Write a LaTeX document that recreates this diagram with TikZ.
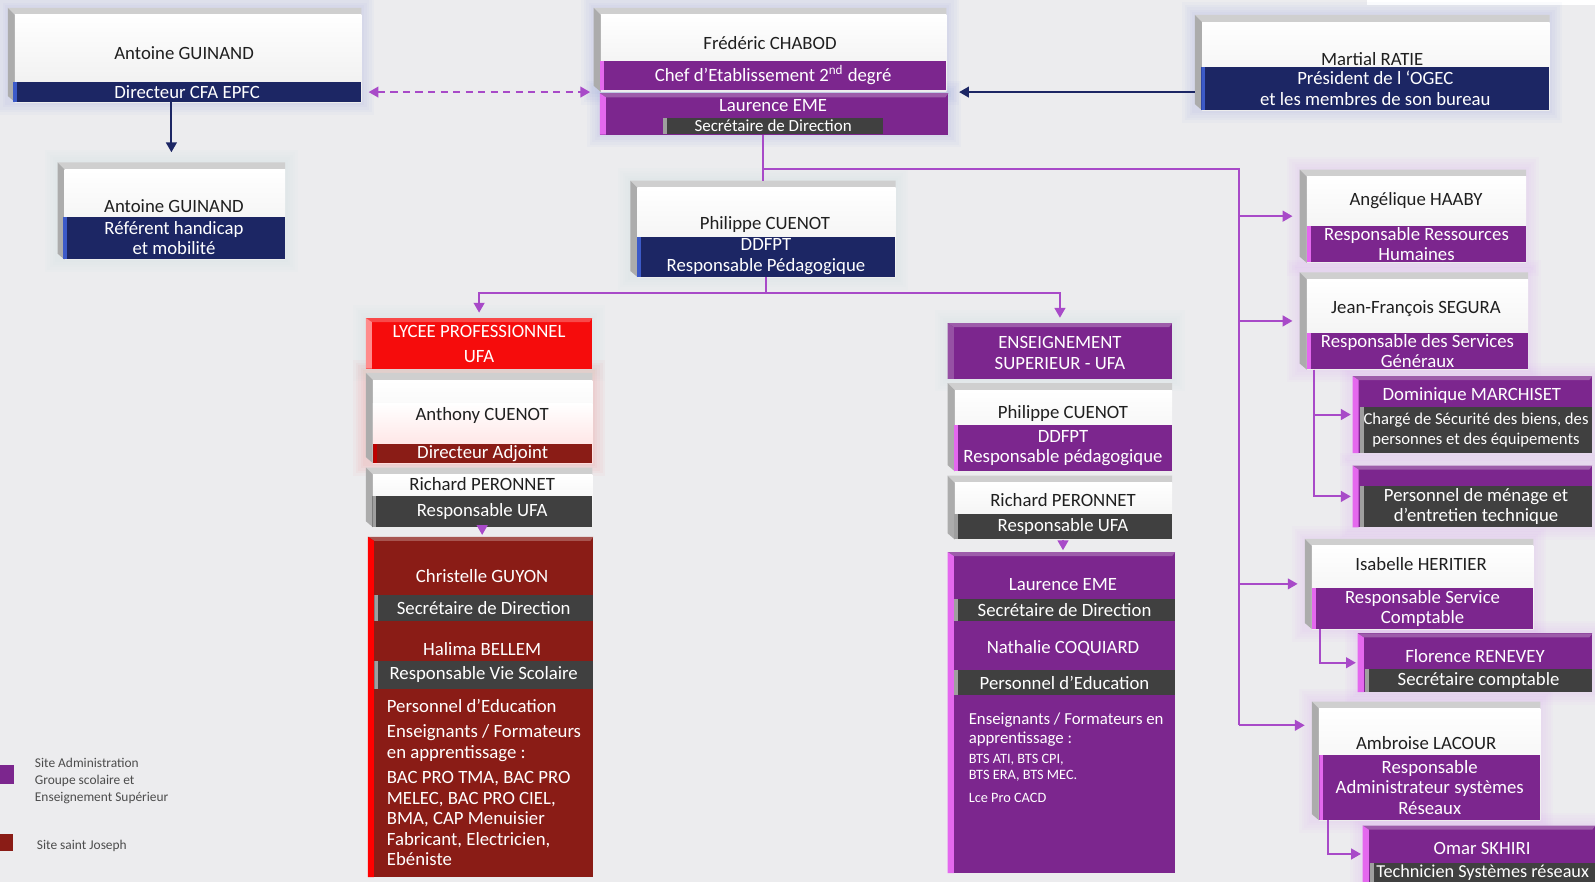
\documentclass[tikz,border=0pt]{standalone}
\usepackage{fontspec}
\setmainfont{Carlito}
\usetikzlibrary{arrows.meta,calc,fit,positioning}

\definecolor{navyblue}{RGB}{28,38,100}
\definecolor{navyedge}{RGB}{60,90,200}
\definecolor{ogecviolet}{RGB}{124,38,142}
\definecolor{pinkedge}{RGB}{228,104,238}
\definecolor{wine}{RGB}{138,28,22}
\definecolor{lpred}{RGB}{246,12,12}
\definecolor{slate}{RGB}{64,64,64}
\definecolor{linkviolet}{RGB}{168,74,200}
\definecolor{backgray}{RGB}{236,236,238}
\definecolor{tealglow}{RGB}{150,210,200}

\begin{document}
\begin{tikzpicture}[x=0.02cm,y=-0.02cm,
  cardframe/.style={inner sep=0pt},
  txt/.style={font=\fontsize{10.5}{11.5}\selectfont, inner sep=0pt, align=center},
  who/.style={txt, text=black!88},
  whitewho/.style={txt, text=white},
  band/.style={inner sep=0pt, path picture={\fill[#1] (path picture bounding box.north west) rectangle ([xshift=0.8mm]path picture bounding box.south west);}},
  navyband/.style={band=navyedge, fill=navyblue},
  violetband/.style={band=pinkedge, fill=ogecviolet},
  slateband/.style={band=gray!75, fill=slate},
  wineband/.style={band=red!75!black, fill=wine},
  boxtext/.style={txt, text=white, align=left, anchor=north west},
  legend/.style={font=\fontsize{7.5}{9.6}\selectfont, text=black!70, align=left, inner sep=0pt},
  link/.style={linkviolet, line width=1.1pt},
  linkarrow/.style={link, -{Triangle[length=5.5pt,width=6pt]}, shorten >=1pt},
  navylink/.style={navyblue, line width=1.1pt, -{Triangle[length=5.5pt,width=6pt]}},
]
% background
\useasboundingbox (0,0) rectangle (1568,867);
\fill[backgray] (0,0) rectangle (1568,867);
\fill[white] (1344,0) rectangle (1568,5);

% card frames
\node[cardframe, fit={(8,8) (355,100)}] (guinand) {};
\node[cardframe, fit={(57,160) (280,255)}] (referent) {};
\node[cardframe, fit={(584,8) (930,90)}] (chabod) {};
\node[cardframe, fit={(1175,15) (1523,108)}] (ratie) {};
\node[cardframe, fit={(620,178) (880,272)}] (ddfpt) {};
\node[cardframe, fit={(360,367) (582,455)}] (anthony) {};
\node[cardframe, fit={(360,460) (582,518)}] (peronA) {};
\node[cardframe, fit={(932,377) (1152,463)}] (cuenotB) {};
\node[cardframe, fit={(932,468) (1152,530)}] (peronB) {};
\node[cardframe, fit={(1278,167) (1500,258)}] (haaby) {};
\node[cardframe, fit={(1278,268) (1502,363)}] (segura) {};
\node[cardframe, fit={(1283,530) (1507,618)}] (heritier) {};
\node[cardframe, fit={(1290,690) (1514,806)}] (lacour) {};

% coloured boxes
\node[cardframe, fit={(590,92) (932,132)}] (laurA) {};
\node[cardframe, fit={(360,313) (582,362)}] (lycee) {};
\node[cardframe, fit={(932,318) (1152,372)}] (ens) {};
\node[cardframe, fit={(362,528) (583,862)}] (bigred) {};
\node[cardframe, fit={(932,543) (1155,858)}] (bigviolet) {};
\node[cardframe, fit={(1330,370) (1565,445)}] (march) {};
\node[cardframe, fit={(1330,458) (1565,518)}] (menage) {};
\node[cardframe, fit={(1335,623) (1565,680)}] (renevey) {};
\node[cardframe, fit={(1340,812) (1568,867)}] (skhiri) {};

% soft glow round the cards
\foreach \c/\gc in {guinand/navyedge, referent/tealglow, chabod/navyedge, laurA/navyedge, ratie/navyedge, ddfpt/tealglow,
    anthony/red, lycee/tealglow, ens/tealglow, haaby/pinkedge, segura/pinkedge, march/pinkedge, menage/pinkedge,
    heritier/pinkedge, renevey/pinkedge, lacour/pinkedge, skhiri/pinkedge} {
  \foreach \i in {1,...,5}
    \fill[\gc, opacity=0.025] ($(\c.north west)+(-2.5*\i,-2.5*\i)$) rectangle ($(\c.south east)+(2.5*\i,2.5*\i)$);
}

% bevelled white cards
\foreach \c in {guinand,referent,chabod,ratie,ddfpt,anthony,peronA,cuenotB,peronB,haaby,segura,heritier,lacour} {
  \fill[gray!38] (\c.north west) -- (\c.north east) -- ($(\c.north east)+(0,7)$) -- ($(\c.north west)+(7,7)$) -- cycle;
  \fill[gray!65] (\c.north west) -- ($(\c.north west)+(7,7)$) -- ($(\c.south west)+(7,0)$) -- ($(\c.south west)+(0,-6)$) -- cycle;
  \shade[top color=white, bottom color=gray!14] ($(\c.north west)+(7,7)$) rectangle (\c.south east);
}
\shade[top color=white, bottom color=red!14] ($(anthony.north west)+(7,30)$) rectangle (anthony.south east);

% coloured boxes with a light edge
\foreach \c/\fc/\ec in {laurA/ogecviolet/pinkedge, lycee/lpred/red!45!white, ens/ogecviolet/ogecviolet!80!white,
    bigred/wine/red, bigviolet/ogecviolet/pinkedge, march/ogecviolet/pinkedge, menage/ogecviolet/pinkedge,
    renevey/ogecviolet/pinkedge, skhiri/ogecviolet/pinkedge} {
  \fill[\fc] (\c.north west) rectangle (\c.south east);
  \fill[\fc!75!white] (\c.north west) -- (\c.north east) -- ($(\c.north east)+(-3,4)$) -- ($(\c.north west)+(6,4)$) -- cycle;
  \fill[\ec] (\c.north west) -- ($(\c.north west)+(6,4)$) -- ($(\c.south west)+(6,0)$) -- (\c.south west) -- cycle;
}

% bands
\node[navyband, fit={(13,81) (355,100)}] (dirA) {};
\node[navyband, fit={(62,213) (280,255)}] (refB) {};
\node[violetband, fit={(590,60) (930,88)}] (chefB) {};
\node[slateband, fit={(652,116) (868,132)}] (secA) {};
\node[navyband, fit={(1181,66) (1523,108)}] (ratieB) {};
\node[navyband, fit={(626,233) (880,272)}] (ddfptB) {};
\node[wineband, fit={(367,436) (582,455)}] (adjB) {};
\node[slateband, fit={(366,488) (582,518)}] (ufaA) {};
\node[slateband, fit={(368,585) (583,610)}] (secB) {};
\node[slateband, fit={(368,650) (583,677)}] (vieB) {};
\node[violetband, fit={(938,418) (1152,463)}] (cuenotBB) {};
\node[slateband, fit={(938,505) (1152,530)}] (ufaB) {};
\node[slateband, fit={(938,589) (1155,610)}] (secC) {};
\node[slateband, fit={(938,659) (1155,683)}] (eduC) {};
\node[violetband, fit={(1285,222) (1500,258)}] (haabyB) {};
\node[violetband, fit={(1285,327) (1502,363)}] (seguraB) {};
\node[slateband, fit={(1337,400) (1565,445)}] (marchB) {};
\node[slateband, fit={(1337,478) (1565,518)}] (menageB) {};
\node[violetband, fit={(1290,578) (1507,618)}] (heritierB) {};
\node[slateband, fit={(1342,658) (1565,680)}] (reneveyB) {};
\node[violetband, fit={(1297,742) (1514,806)}] (lacourB) {};
\node[slateband, fit={(1347,848) (1568,867)}] (skhiriB) {};

% band texts
\node[whitewho] (tDirA) at (dirA) {Directeur CFA EPFC};
\node[whitewho] (tRefB) at (refB) {Référent handicap\\et mobilité};
\node[whitewho] (tChefB) at (chefB) {Chef d’Etablissement 2\textsuperscript{nd} degré};
\node[whitewho, font=\fontsize{9.5}{11}\selectfont] (tSecA) at (secA) {Secrétaire de Direction};
\node[whitewho] (tRatieB) at (ratieB) {Président de l ‘OGEC\\et les membres de son bureau};
\node[whitewho] (tDdfptB) at (ddfptB) {DDFPT\\Responsable Pédagogique};
\node[whitewho] (tAdjB) at (adjB) {Directeur Adjoint};
\node[whitewho] (tUfaA) at (ufaA) {Responsable UFA};
\node[whitewho] (tSecB) at (secB) {Secrétaire de Direction};
\node[whitewho] (tVieB) at (vieB) {Responsable Vie Scolaire};
\node[whitewho] (tCuenotBB) at (cuenotBB) {DDFPT\\Responsable pédagogique};
\node[whitewho] (tUfaB) at (ufaB) {Responsable UFA};
\node[whitewho] (tSecC) at (secC) {Secrétaire de Direction};
\node[whitewho] (tEduC) at (eduC) {Personnel d’Education};
\node[whitewho] (tHaabyB) at (haabyB) {Responsable Ressources\\Humaines};
\node[whitewho] (tSeguraB) at (seguraB) {Responsable des Services\\Généraux};
\node[whitewho, font=\fontsize{9.3}{11}\selectfont] (tMarchB) at (marchB) {Chargé de Sécurité des biens, des\\personnes et des équipements};
\node[whitewho] (tMenageB) at (menageB) {Personnel de ménage et\\d’entretien technique};
\node[whitewho] (tHeritierB) at (heritierB) {Responsable Service\\Comptable};
\node[whitewho] (tReneveyB) at (reneveyB) {Secrétaire comptable};
\node[whitewho] (tLacourB) at (lacourB) {Responsable\\Administrateur systèmes\\Réseaux};
\node[whitewho, font=\fontsize{10.2}{11}\selectfont] (tSkhiriB) at (skhiriB) {Technicien Systèmes réseaux};

% names
\node[who] (tGuinand) at (181,52) {Antoine GUINAND};
\node[who] (tReferent) at (171,203) {Antoine GUINAND};
\node[who] (tChabod) at (757,42) {Frédéric CHABOD};
\node[whitewho] (tLaurA) at (760,104) {Laurence EME};
\node[who] (tRatie) at (1349,58) {Martial RATIE};
\node[who] (tDdfpt) at (752,221) {Philippe CUENOT};
\node[whitewho] (tLycee) at (471,338) {LYCEE PROFESSIONNEL\\[2.7pt]UFA};
\node[who] (tAnthony) at (474,408) {Anthony CUENOT};
\node[who] (tPeronA) at (474,476) {Richard PERONNET};
\node[whitewho] (tEns) at (1042,347) {ENSEIGNEMENT\\SUPERIEUR - UFA};
\node[who] (tCuenotB) at (1045,406) {Philippe CUENOT};
\node[who] (tPeronB) at (1045,492) {Richard PERONNET};
\node[who] (tHaaby) at (1392,197) {Angélique HAABY};
\node[who] (tSegura) at (1392,303) {Jean-François SEGURA};
\node[whitewho] (tMarch) at (1447,389) {Dominique MARCHISET};
\node[who] (tHeritier) at (1397,554) {Isabelle HERITIER};
\node[whitewho] (tRenevey) at (1450,645) {Florence RENEVEY};
\node[who] (tLacour) at (1402,730) {Ambroise LACOUR};
\node[whitewho] (tSkhiri) at (1457,834) {Omar SKHIRI};

% Site saint Joseph box
\node[whitewho] (tGuyon) at (474,566) {Christelle GUYON};
\node[whitewho] (tBellem) at (474,638) {Halima BELLEM};
\node[boxtext, anchor=west] (tEduA) at (380,694) {Personnel d’Education};
\node[boxtext] (tEnsA) at (380,712) {Enseignants / Formateurs\\en apprentissage :};
\node[boxtext] (tBac) at (380,758) {BAC PRO TMA, BAC PRO\\MELEC, BAC PRO CIEL,\\BMA, CAP Menuisier\\Fabricant, Electricien,\\Ebéniste};

% Site Administration box
\node[whitewho] (tLaurC) at (1045,575) {Laurence EME};
\node[whitewho] (tCoquiard) at (1045,637) {Nathalie COQUIARD};
\node[boxtext, font=\fontsize{9.4}{10.8}\selectfont] (tEnsC) at (952,700) {Enseignants / Formateurs en\\apprentissage :};
\node[boxtext, font=\fontsize{8}{9.2}\selectfont] (tBts) at (952,741) {BTS ATI, BTS CPI,\\BTS ERA, BTS MEC.};
\node[boxtext, font=\fontsize{8}{9.2}\selectfont, anchor=west] (tLce) at (952,784) {Lce Pro CACD};

% connectors
\draw[navylink] (dirA.south -| referent.north) -- ([yshift=0.2cm]referent.north);
\draw[linkviolet, line width=1.1pt, dash pattern=on 4pt off 3pt, {Triangle[length=5.5pt,width=6pt]}-{Triangle[length=5.5pt,width=6pt]}, shorten <=4pt, shorten >=2pt] (dirA.east) -- (chabod.west |- dirA.east);
\draw[navylink, shorten >=6pt] (ratie.west |- dirA.east) -- (laurA.east |- dirA.east);
\draw[link] (laurA.south -| ddfpt.north) -- (ddfpt.north);
\coordinate (spine) at (1218,166);
\coordinate (spinefoot) at (1218,713);
\draw[link] (ddfpt.north |- spine) -- (spine) -- (spinefoot);
\foreach \c in {haaby,segura,heritier}
  \draw[linkarrow, shorten >=4pt] (spine |- \c.west) -- (\c.west);
\draw[linkarrow, shorten >=4pt] (spinefoot) -- (lacour.west |- spinefoot);
\draw[link] (ddfptB.south) -- ++(0,16) coordinate (fork);
\draw[linkarrow, shorten >=3pt] (fork) -| (lycee.north);
\draw[linkarrow, shorten >=3pt] (fork) -| (ens.north);
\draw[linkarrow] (ufaA.south) -- (ufaA.south |- bigred.north);
\draw[linkarrow] (ufaB.south) -- (ufaB.south |- bigviolet.north);
\draw[linkarrow] ($(seguraB.south west)+(7,0)$) |- (march.west);
\draw[linkarrow] ($(seguraB.south west)+(7,0)$) |- (menage.west);
\draw[linkarrow] ($(heritierB.south west)+(8,0)$) |- (renevey.west);
\draw[linkarrow] ($(lacourB.south west)+(9,0)$) |- (skhiri.west);

% legend
\fill[ogecviolet] (0,752) rectangle (14,771);
\node[legend, anchor=north west] (lAdmin) at (34,745) {Site Administration\\Groupe scolaire et\\Enseignement Supérieur};
\fill[wine] (0,820) rectangle (13,837);
\node[legend, anchor=west] (lJoseph) at (36,832) {Site saint Joseph};
\end{tikzpicture}
\end{document}
